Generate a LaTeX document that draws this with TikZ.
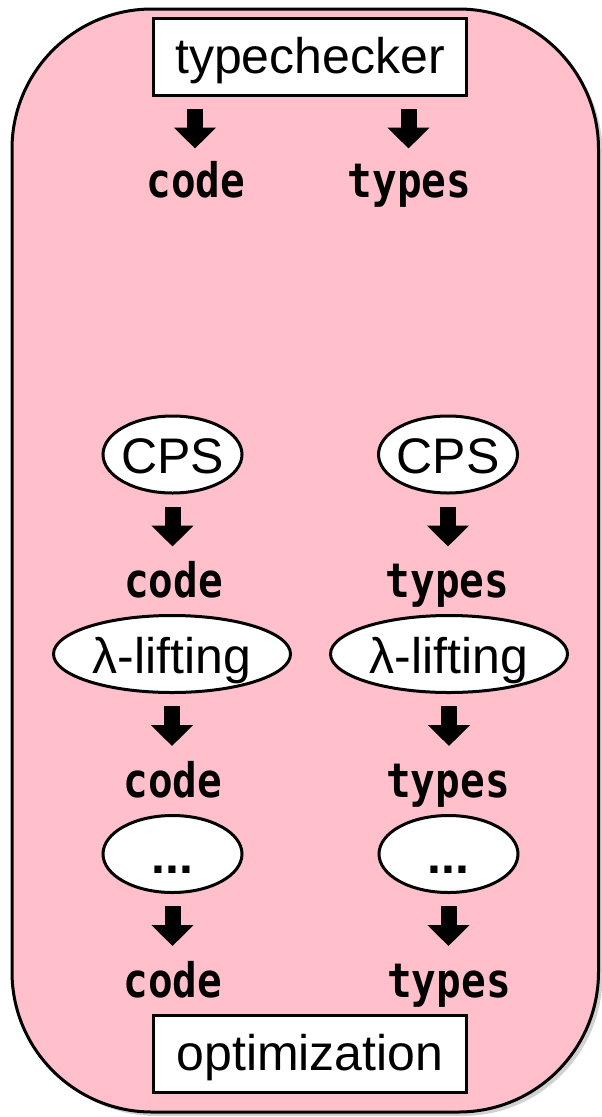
\documentclass[tikz,border=0pt]{standalone}
\usepackage{fontspec}
\usepackage{graphicx}
\setmainfont{Liberation Sans}
\newfontfamily\codefont{DejaVu Sans Mono}
\usetikzlibrary{arrows.meta,calc,shapes.geometric}
\definecolor{pinkbg}{RGB}{255,192,203}
\definecolor{shadowgray}{RGB}{210,210,210}
\newcommand{\codetxt}[1]{\scalebox{1}[1.16]{#1}}
\begin{document}
\begin{tikzpicture}[x=1pt,y=-1pt,
  stage/.style={draw=black, line width=3pt, fill=white, ellipse, inner sep=0pt,
    minimum height=77pt, text height=42pt, text depth=4pt,
    font=\fontsize{50}{60}\selectfont},
  smallstage/.style={stage, minimum width=139pt},
  widestage/.style={stage, minimum width=237pt},
  phase/.style={draw=black, line width=3pt, fill=white, rectangle, inner sep=0pt,
    minimum width=313pt, minimum height=77pt, text height=40pt, text depth=7pt,
    font=\fontsize{50}{60}\selectfont},
  data/.style={anchor=base, inner sep=0pt, font=\codefont\bfseries\fontsize{41}{50}\selectfont},
  blk/.style={line width=16pt, -{Triangle[width=41pt,length=21pt]}},
]
\useasboundingbox (0,0) rectangle (602,1117);
% container with shadow
\fill[shadowgray, rounded corners=140pt] (16.5,13) rectangle (602.5,1116);
\draw[fill=pinkbg, line width=3pt, rounded corners=140pt] (12,9) rectangle (598.5,1112);

% phases
\node[phase] (tc) at (310,56.5) {typechecker};
\node[phase] (opt) at (310,1054) {optimization};

% top outputs
\node[data] (code1) at (196,197.5) {\codetxt{code}};
\node[data] (types1) at (409.5,197.5) {\codetxt{types}};

% stages
\node[smallstage] (cps1) at (172.5,454.5) {\makebox[0pt]{CPS}};
\node[smallstage] (cps2) at (448,454.5) {\makebox[0pt]{CPS}};
\node[data] (code2) at (173.5,597.5) {\codetxt{code}};
\node[data] (types2) at (447.5,597.5) {\codetxt{types}};

\node[widestage] (lam1) at (172,654) {\makebox[0pt]{λ-lifting}};
\node[widestage] (lam2) at (449,654) {\makebox[0pt]{λ-lifting}};
\node[data] (code3) at (173,797.5) {\codetxt{code}};
\node[data] (types3) at (448,797.5) {\codetxt{types}};

\node[smallstage] (dots1) at (172.5,854) {\makebox[0pt]{\bfseries ...}};
\node[smallstage] (dots2) at (448.5,854) {\makebox[0pt]{\bfseries ...}};
\node[data] (code4) at (173,997) {\codetxt{code}};
\node[data] (types4) at (449,997) {\codetxt{types}};

% arrows
\draw[blk] ($(tc.south -| code1)+(-1,12)$) -- ($(tc.south -| code1)+(-1,52)$);
\draw[blk] ($(tc.south -| types1)+(-1,12)$) -- ($(tc.south -| types1)+(-1,52)$);
\foreach \n in {cps1,cps2,lam1,lam2,dots1,dots2}{
  \draw[blk] ($(\n.south)+(0,12)$) -- ($(\n.south)+(0,52)$);
}
\end{tikzpicture}
\end{document}
